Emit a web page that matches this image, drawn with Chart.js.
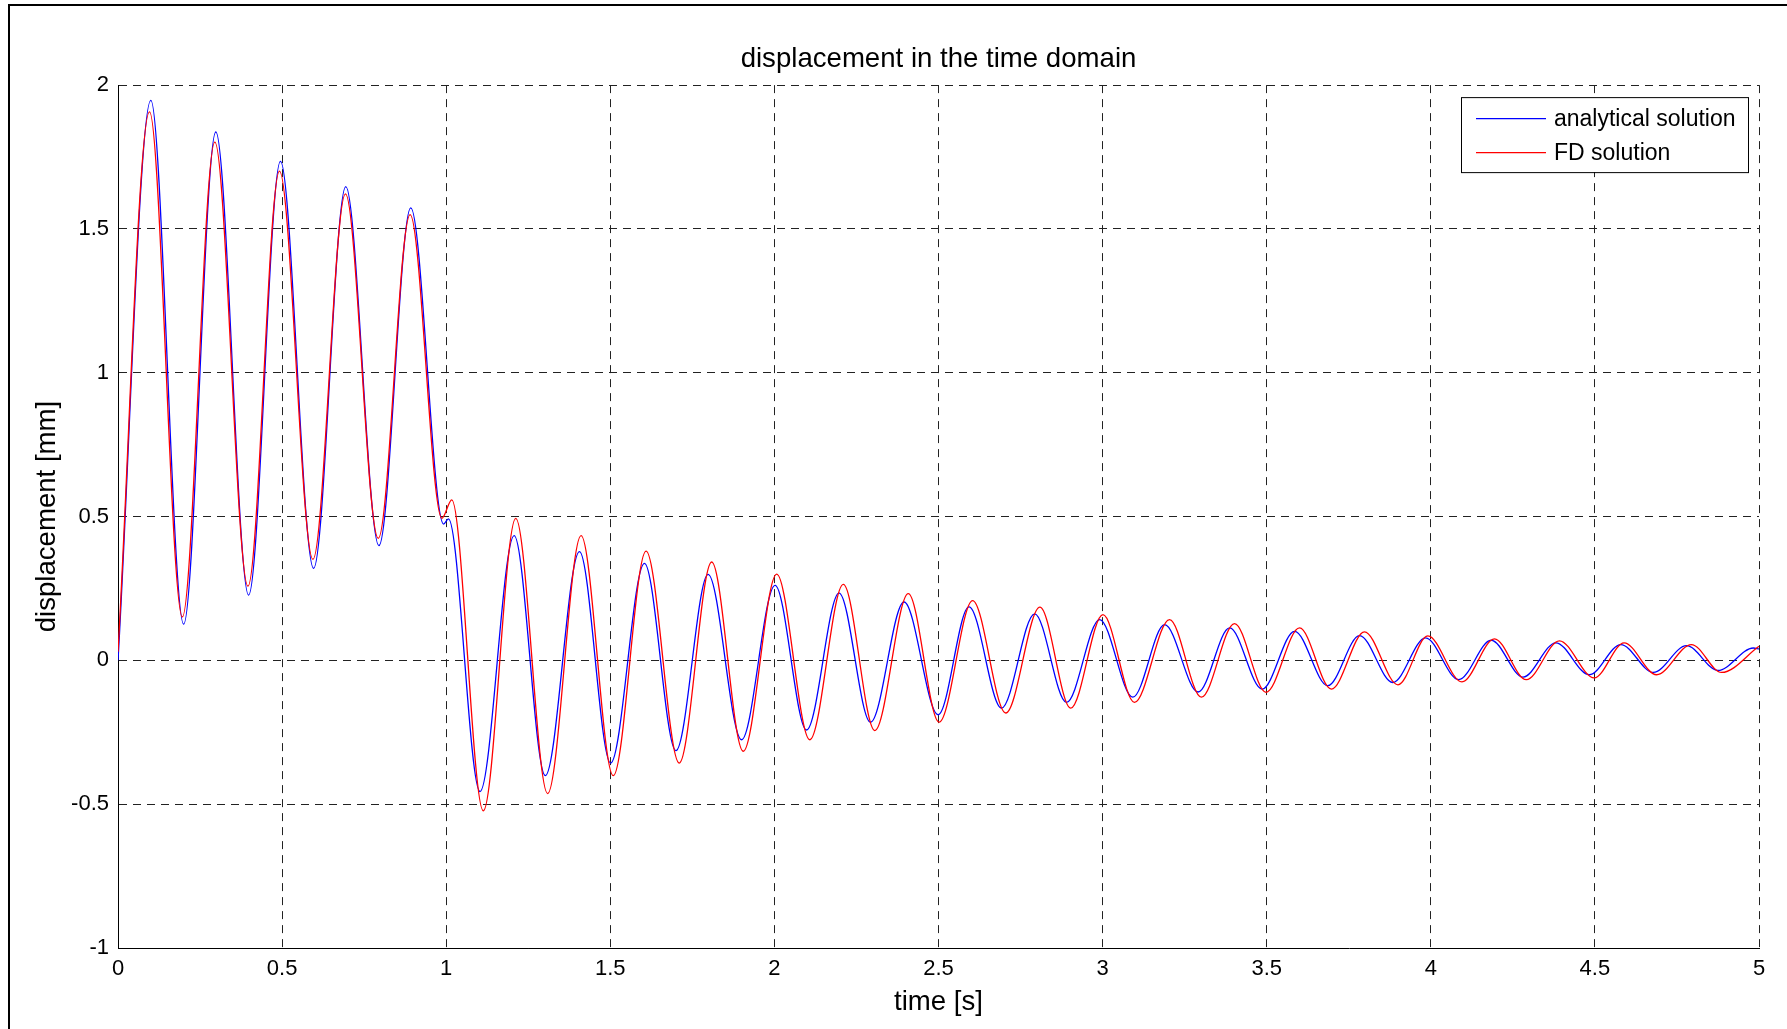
<!DOCTYPE html>
<html lang="en">
<head>
    <meta charset="UTF-8">
    <title>displacement in the time domain</title>
    <style>
        html, body { margin: 0; padding: 0; background: #fff; }
        .figure { position: relative; width: 1787px; height: 1029px; overflow: hidden; }
        .frame {
            position: absolute; left: 8px; top: 4px; right: -10px; bottom: -10px;
            border: 2px solid #000; pointer-events: none;
        }
    </style>
</head>
<body>
    <div class="figure">
        <canvas id="myChart" width="1787" height="1029"></canvas>
        <div class="frame"></div>
    </div>
    <script src="https://cdn.jsdelivr.net/npm/chart.js@4.4.1/dist/chart.umd.min.js"></script>
    <script>
        // values (peaks, troughs, ends)
        var analyticT = [0, 0.100, 0.200, 0.298, 0.398, 0.495, 0.596, 0.694, 0.795, 0.892, 0.992, 1.007,
            1.103, 1.207, 1.302, 1.406, 1.501, 1.604, 1.700, 1.798, 1.900, 2.002, 2.098, 2.197, 2.293,
            2.395, 2.499, 2.593, 2.692, 2.793, 2.890, 2.991, 3.092, 3.189, 3.291, 3.387, 3.486, 3.585,
            3.686, 3.783, 3.884, 3.984, 4.085, 4.184, 4.281, 4.381, 4.483, 4.579, 4.678, 4.779, 4.875,
            4.983, 5.0];
        var analyticY = [0, 1.947, 0.126, 1.837, 0.227, 1.735, 0.320, 1.647, 0.399, 1.573, 0.474, 0.492,
            -0.456, 0.434, -0.401, 0.378, -0.357, 0.337, -0.314, 0.299, -0.276, 0.261, -0.242, 0.234, -0.215,
            0.203, -0.189, 0.186, -0.166, 0.162, -0.146, 0.142, -0.128, 0.124, -0.110, 0.113, -0.100, 0.101,
            -0.088, 0.086, -0.077, 0.078, -0.067, 0.070, -0.058, 0.061, -0.050, 0.055, -0.042, 0.051, -0.035,
            0.043, 0.040];

        var fdT = [0, 0.096, 0.196, 0.295, 0.396, 0.492, 0.594, 0.693, 0.793, 0.890, 0.987, 1.017,
            1.113, 1.212, 1.309, 1.411, 1.509, 1.609, 1.710, 1.809, 1.905, 2.007, 2.108, 2.210, 2.306,
            2.408, 2.502, 2.604, 2.705, 2.809, 2.903, 3.001, 3.097, 3.204, 3.301, 3.402, 3.498, 3.600,
            3.697, 3.798, 3.900, 3.991, 4.095, 4.194, 4.291, 4.392, 4.498, 4.589, 4.688, 4.794, 4.886,
            5.0];
        var fdY = [0.03, 1.907, 0.151, 1.802, 0.258, 1.701, 0.351, 1.622, 0.424, 1.550, 0.494, 0.558,
            -0.523, 0.494, -0.463, 0.434, -0.401, 0.380, -0.357, 0.342, -0.316, 0.300, -0.276, 0.264, -0.244,
            0.232, -0.215, 0.208, -0.183, 0.185, -0.166, 0.159, -0.146, 0.142, -0.128, 0.128, -0.111, 0.113,
            -0.100, 0.099, -0.085, 0.085, -0.075, 0.075, -0.067, 0.068, -0.061, 0.061, -0.050, 0.055, -0.042,
            0.049];

        var seriesNames = ['analytical solution', 'FD solution'];
        var xTicks = [0, 0.5, 1, 1.5, 2, 2.5, 3, 3.5, 4, 4.5, 5];
        var yTicks = [-1, -0.5, 0, 0.5, 1, 1.5, 2];

        var fontFamily = "'Liberation Sans', Arial, Helvetica, sans-serif";

        function toPoints(ts, ys) {
            var pts = [];
            for (var i = 0; i < ts.length; i++) {
                pts.push({ x: ts[i], y: ys[i] });
            }
            return pts;
        }

        // matlab style legend box inside the axes, top right
        var boxLegend = {
            id: 'boxLegend',
            afterDatasetsDraw: function (chart) {
                var ctx = chart.ctx;
                var ca = chart.chartArea;
                var sets = chart.data.datasets;
                ctx.save();
                ctx.font = '23px ' + fontFamily;
                var maxW = 0;
                sets.forEach(function (ds) {
                    maxW = Math.max(maxW, ctx.measureText(ds.label).width);
                });
                var w = Math.round(93 + maxW + 12);
                var h = 75;
                var right = ca.right - 11;
                var left = right - w;
                var top = ca.top + 12;
                ctx.fillStyle = '#fff';
                ctx.fillRect(left, top, w, h);
                ctx.strokeStyle = '#000';
                ctx.lineWidth = 1;
                ctx.strokeRect(left + 0.5, top + 0.5, w, h);
                ctx.textBaseline = 'middle';
                ctx.textAlign = 'left';
                sets.forEach(function (ds, i) {
                    var y = top + 21 + i * 34;
                    ctx.strokeStyle = ds.borderColor;
                    ctx.lineWidth = 1.3;
                    ctx.beginPath();
                    ctx.moveTo(left + 15, y + 0.5);
                    ctx.lineTo(left + 85, y + 0.5);
                    ctx.stroke();
                    ctx.fillStyle = '#000';
                    ctx.fillText(ds.label, left + 93, y + 2);
                });
                ctx.restore();
            }
        };

        function createChart() {
            var ctx = document.getElementById('myChart').getContext('2d');
            var tickFont = { family: fontFamily, size: 22 };
            var labelFont = { family: fontFamily, size: 27.6 };
            new Chart(ctx, {
                type: 'line',
                data: {
                    datasets: [
                        {
                            label: seriesNames[0],
                            data: toPoints(analyticT, analyticY),
                            borderColor: '#0000ff',
                            borderWidth: 1.3,
                            pointRadius: 0,
                            fill: false,
                            cubicInterpolationMode: 'monotone',
                            order: 2
                        },
                        {
                            label: seriesNames[1],
                            data: toPoints(fdT, fdY),
                            borderColor: '#ff0000',
                            borderWidth: 1.3,
                            pointRadius: 0,
                            fill: false,
                            cubicInterpolationMode: 'monotone',
                            order: 1
                        }
                    ]
                },
                options: {
                    responsive: false,
                    animation: false,
                    events: [],
                    layout: { padding: { left: 0, right: 28, top: 0, bottom: 0 } },
                    plugins: {
                        legend: { display: false },
                        tooltip: { enabled: false },
                        title: {
                            display: true,
                            fullSize: false,
                            text: 'displacement in the time domain',
                            color: '#000',
                            font: { family: fontFamily, size: 27.6, weight: 'normal' },
                            padding: { top: 43, bottom: 9 }
                        }
                    },
                    scales: {
                        x: {
                            type: 'linear',
                            min: 0,
                            max: 5,
                            afterBuildTicks: function (s) {
                                s.ticks = xTicks.map(function (v) { return { value: v }; });
                            },
                            afterFit: function (s) { s.height = 81; },
                            ticks: {
                                callback: function (v) { return String(v); },
                                font: tickFont,
                                color: '#000',
                                padding: 8,
                                maxRotation: 0,
                                autoSkip: false
                            },
                            grid: { color: '#222', lineWidth: 1, drawTicks: false },
                            border: { display: true, color: '#000', width: 1, dash: [8, 6] },
                            title: {
                                display: true,
                                text: 'time [s]',
                                color: '#000',
                                font: labelFont,
                                padding: { top: 0, bottom: 10.5 }
                            }
                        },
                        y: {
                            type: 'linear',
                            min: -1,
                            max: 2,
                            afterBuildTicks: function (s) {
                                s.ticks = yTicks.map(function (v) { return { value: v }; });
                            },
                            afterFit: function (s) { s.width = 118; },
                            ticks: {
                                callback: function (v) { return String(v); },
                                font: tickFont,
                                color: '#000',
                                padding: 9,
                                autoSkip: false
                            },
                            grid: { color: '#222', lineWidth: 1, drawTicks: false },
                            border: { display: true, color: '#000', width: 1, dash: [8, 6] },
                            title: {
                                display: true,
                                text: 'displacement [mm]',
                                color: '#000',
                                font: labelFont,
                                padding: { top: 31, bottom: 0 }
                            }
                        }
                    }
                },
                plugins: [boxLegend]
            });
        }
        createChart();
    </script>
</body>
</html>
